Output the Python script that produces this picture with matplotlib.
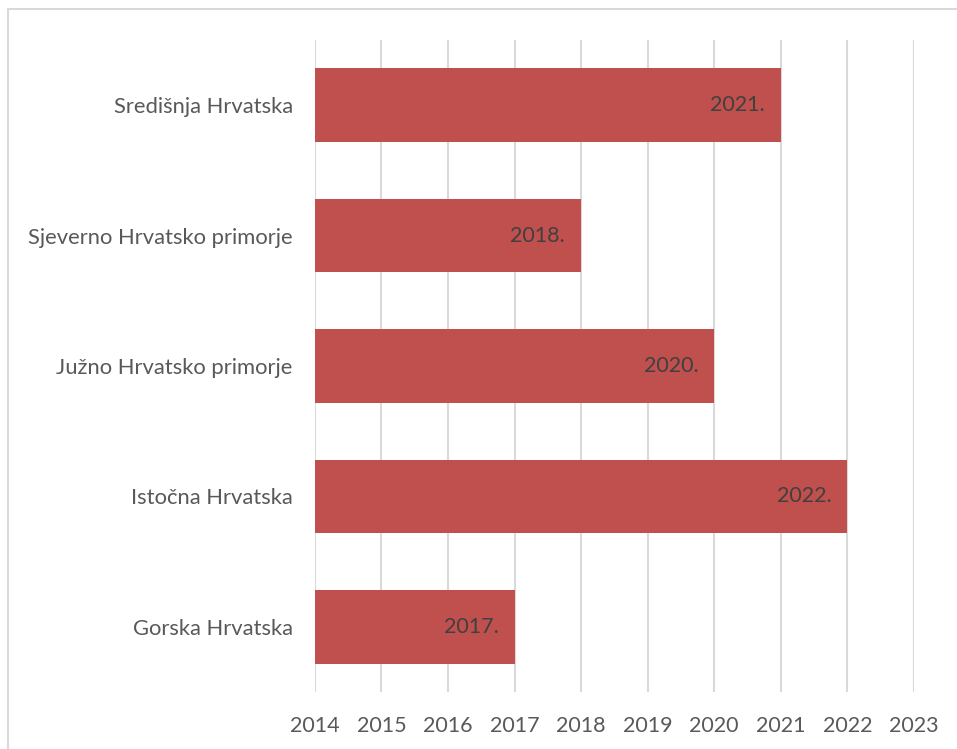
import matplotlib
matplotlib.use('Agg')
from matplotlib import pyplot as plt
from matplotlib.patches import Rectangle

# data
regions = ['Gorska Hrvatska', 'Istočna Hrvatska', 'Južno Hrvatsko primorje',
           'Sjeverno Hrvatsko primorje', 'Središnja Hrvatska']
years = [2017, 2022, 2020, 2018, 2021]
x_ticks = [2014, 2015, 2016, 2017, 2018, 2019, 2020, 2021, 2022, 2023]
start = 2014

plt.rcParams['font.family'] = ['Lato', 'DejaVu Sans']

fig = plt.figure(figsize=(9.57, 7.49), dpi=100)
ax = fig.add_axes([0.329, 0.0761, 0.626, 0.8705])

# chart border (cut by the image edge on the right and bottom)
fig.patches.append(Rectangle((8 / 957, -0.05), 1.2, 1 - 9 / 749 + 0.05,
                             transform=fig.transFigure, fill=False,
                             edgecolor='#D9D9D9', linewidth=1.5))

ypos = range(len(regions))
ax.barh(ypos, [y - start for y in years], left=start, height=0.565,
        color='#C0504D', zorder=2)

for i, y in enumerate(years):
    ax.text(y - 0.24, i, f'{y}.', ha='right', va='center',
            fontsize=15.5, color='#404040', zorder=3)

ax.set_xlim(2014, 2023)
ax.set_ylim(-0.5, 4.5)
ax.set_xticks(x_ticks)
ax.set_xticklabels([str(t) for t in x_ticks])
ax.set_yticks(list(ypos))
ax.set_yticklabels(regions)
ax.tick_params(axis='both', length=0, labelcolor='#595959')
ax.tick_params(axis='x', pad=17, labelsize=15.5)
ax.tick_params(axis='y', pad=16, labelsize=15.8)
ax.grid(axis='x', color='#D9D9D9', linewidth=1.5, zorder=0)
for s in ax.spines.values():
    s.set_visible(False)

fig.savefig('out.png', dpi=100)
